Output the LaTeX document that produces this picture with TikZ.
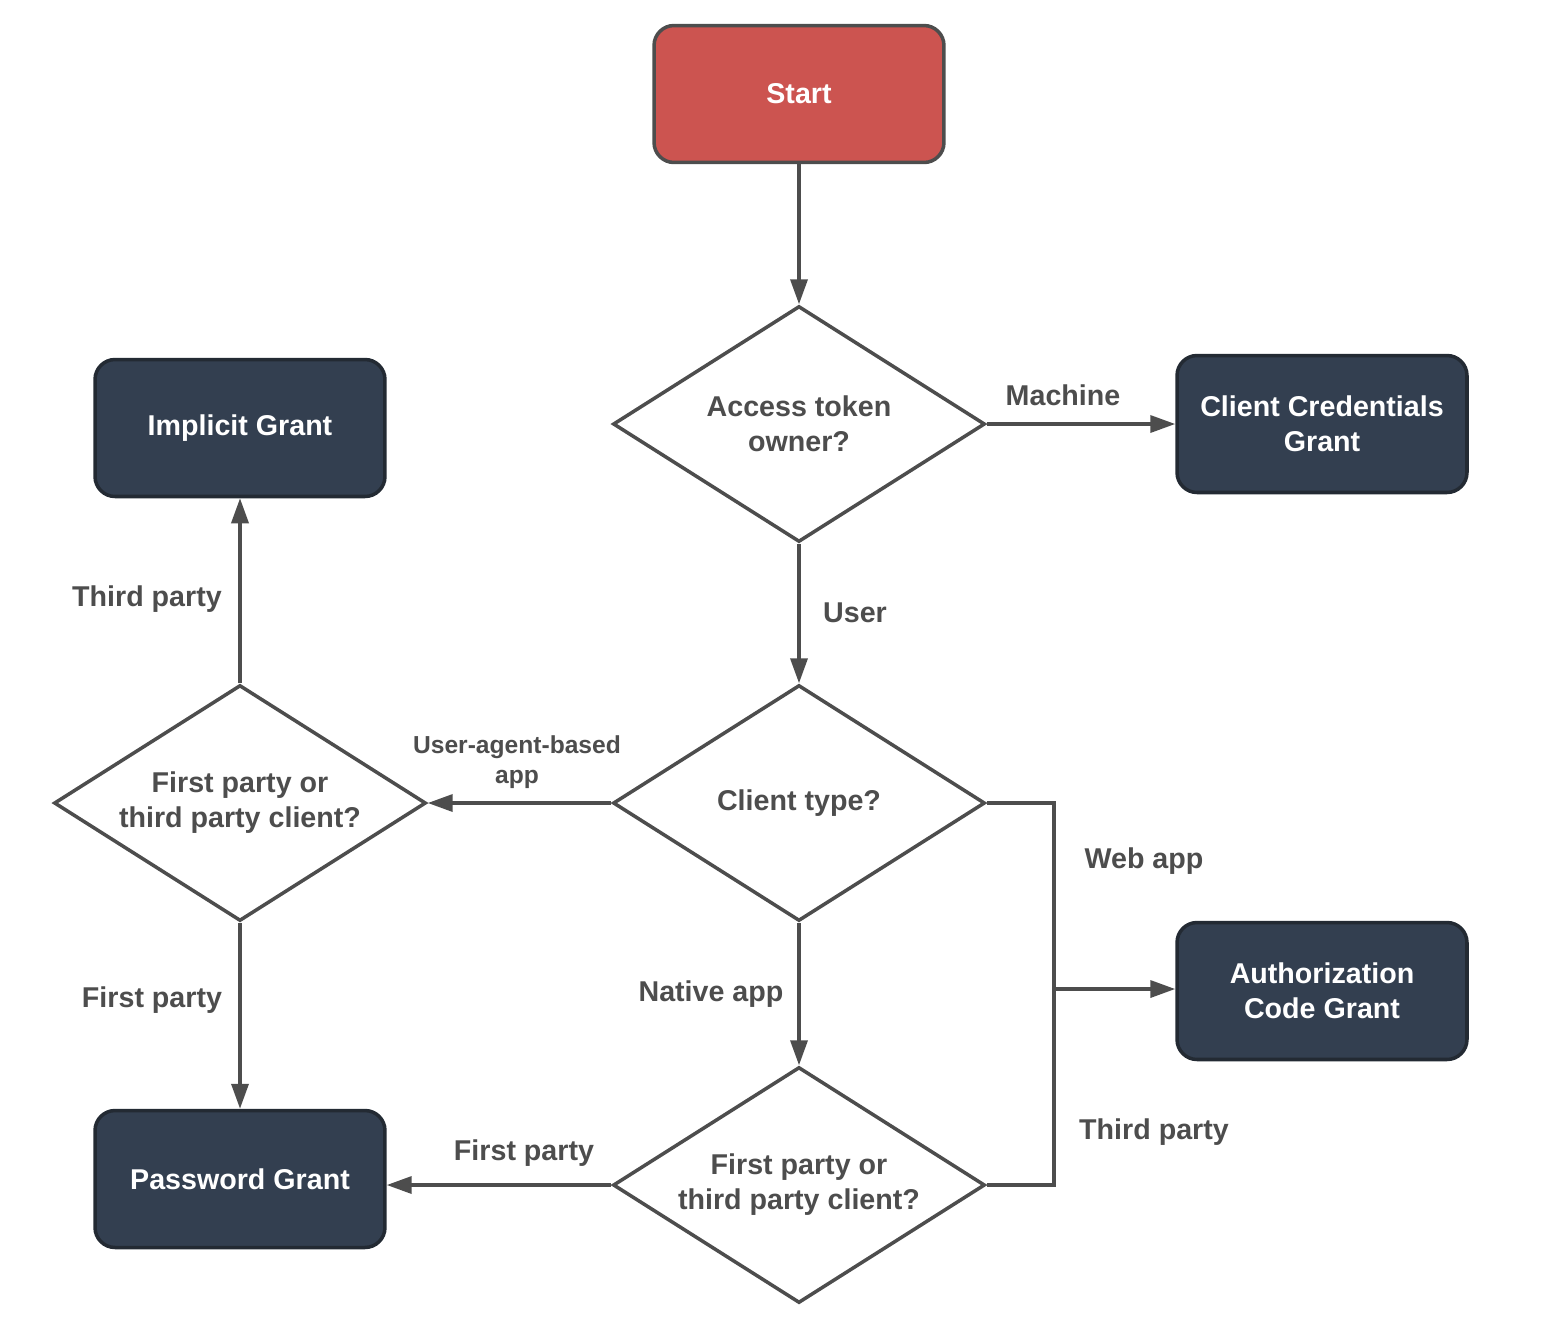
\documentclass[tikz,border=0pt]{standalone}
\usepackage{fontspec}
\setmainfont{Liberation Sans}
\usetikzlibrary{shapes.geometric,arrows.meta}
\definecolor{startred}{HTML}{CC5450}
\definecolor{grantblue}{HTML}{333F50}
\definecolor{grantline}{HTML}{232A33}
\definecolor{linegray}{HTML}{4D4D4D}
\begin{document}
\begin{tikzpicture}
  [x=0.02cm,y=-0.02cm,line width=2pt,color=linegray,
   every node/.style={font=\bfseries\fontsize{16.3pt}{20pt}\selectfont,align=center,text=linegray},
   grant/.style={draw=grantline,fill=grantblue,text=white,rounded corners=0.4cm,minimum width=5.8cm,minimum height=2.74cm},
   startbox/.style={grant,draw=linegray,fill=startred},
   choice/.style={diamond,aspect=1.576,draw=linegray,fill=white,minimum width=7.44cm,minimum height=4.72cm,inner sep=1pt},
   small/.style={font=\bfseries\fontsize{14pt}{17pt}\selectfont},
   flow/.style={-{Triangle[length=0.5cm,width=0.34cm]}}]
  \useasboundingbox (0,0) rectangle (1544,1336);

  \node[startbox] (start) at (799,94) {Start};
  \node[choice] (owner) at (799,424) {Access token\\owner?};
  \node[grant] (ccg) at (1322,424) {Client Credentials\\Grant};
  \node[grant] (impl) at (240,428) {Implicit Grant};
  \node[choice] (ctype) at (799,803) {Client type?};
  \node[choice] (party1) at (240,803) {First party or\\third party client?};
  \node[grant] (acg) at (1322,991) {Authorization\\Code Grant};
  \node[grant] (pwd) at (240,1179) {Password Grant};
  \node[choice] (party2) at (799,1185) {First party or\\third party client?};
  \coordinate (join) at (1054,989);

  % labels
  \node (lmachine) at (1063,395) {Machine};
  \node (luser) at (855,613) {User};
  \node[small] (luaapp) at (517,762) {User-agent-based\\app};
  \node (lnative) at (711,994) {Native app};
  \node (lweb) at (1144,861) {Web app};
  \node (lthird2) at (1154,1132) {Third party};
  \node (lfirst2) at (524,1153) {First party};
  \node (lthird1) at (147,599) {Third party};
  \node (lfirst1) at (152,1000) {First party};

  \foreach \from/\to in {start/owner,owner/ccg,owner/ctype,ctype/party1,ctype/party2,party1/impl,party1/pwd}
    \draw[flow] (\from) -- (\to);
  \draw[flow] (party2.west) -- (party2.west -| pwd.east);
  \draw (ctype.east) -| (join);
  \draw (party2.east) -| (join);
  \draw[flow] (join) -- (join -| acg.west);

\end{tikzpicture}
\end{document}
